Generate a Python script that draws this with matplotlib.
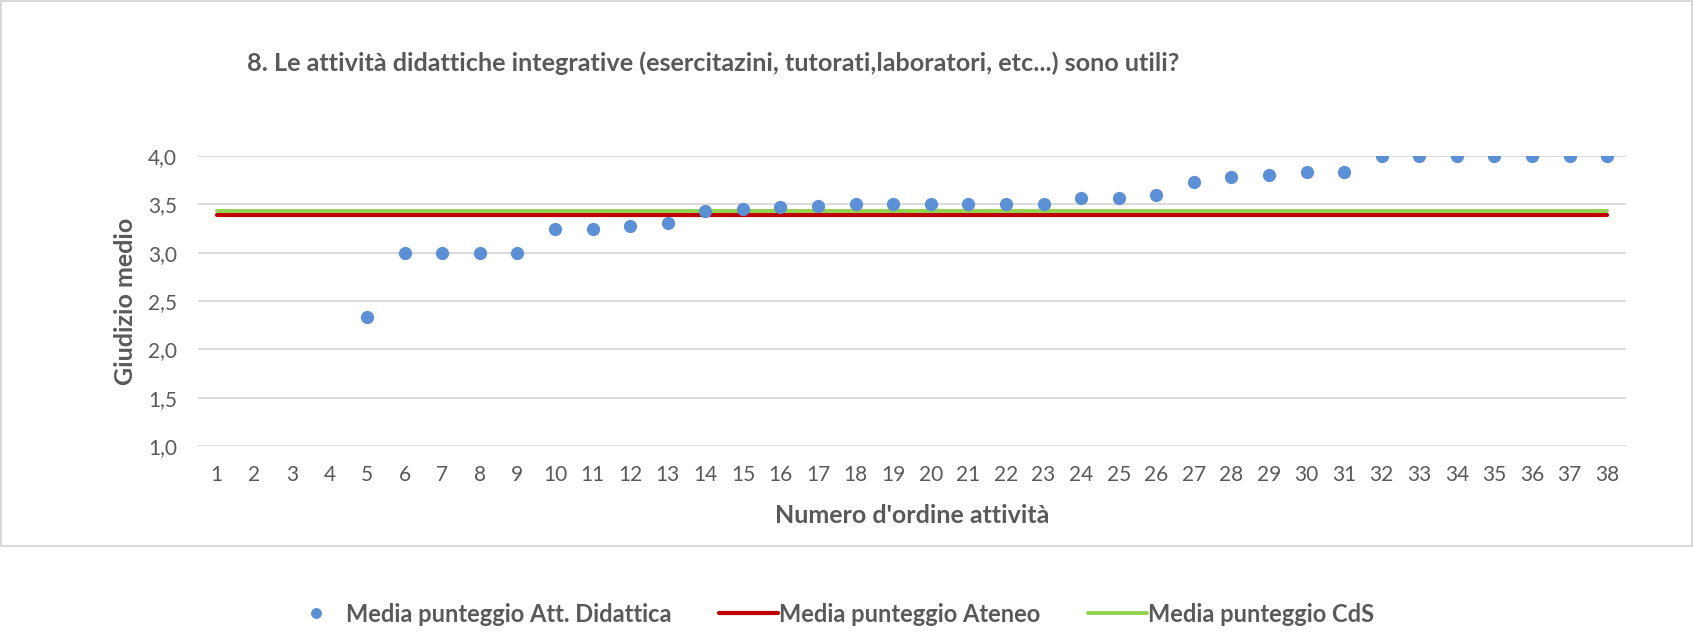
import matplotlib
matplotlib.use("Agg")
import matplotlib.pyplot as plt
from matplotlib.patches import Rectangle
import numpy as np

# ---- data ----
categories = list(range(1, 39))
media_att = [np.nan, np.nan, np.nan, np.nan, 2.33, 3.00, 3.00, 3.00, 3.00, 3.25,
             3.25, 3.28, 3.31, 3.43, 3.45, 3.47, 3.48, 3.50, 3.50, 3.50,
             3.50, 3.50, 3.50, 3.57, 3.57, 3.60, 3.73, 3.78, 3.80, 3.83,
             3.83, 4.00, 4.00, 4.00, 4.00, 4.00, 4.00, 4.00]
media_ateneo = 3.39
media_cds = 3.43
y_ticks = [1.0, 1.5, 2.0, 2.5, 3.0, 3.5, 4.0]
y_ticklabels = ["1,0", "1,5", "2,0", "2,5", "3,0", "3,5", "4,0"]

title = "8. Le attività didattiche integrative (esercitazini, tutorati,laboratori, etc...) sono utili?"
xlabel = "Numero d'ordine attività"
ylabel = "Giudizio medio"
legend_labels = ["Media punteggio Att. Didattica", "Media punteggio Ateneo", "Media punteggio CdS"]

# ---- style ----
plt.rcParams['font.family'] = ['Lato', 'DejaVu Sans']
TXT = "#595959"
W, H = 1693, 633
fig = plt.figure(figsize=(W / 100, H / 100), dpi=100)

# outer chart border
fig.patches.append(Rectangle((1 / W, 1 - 546 / H), (W - 2) / W, (545) / H,
                             transform=fig.transFigure, fill=False,
                             edgecolor="#D9D9D9", linewidth=1.5))

ax = fig.add_axes([198 / W, 1 - 446 / H, (1626 - 198) / W, (446 - 156) / H])
ax.set_xlim(0.5, 38.5)
ax.set_ylim(1.0, 4.0)
for s in ax.spines.values():
    s.set_visible(False)
ax.set_yticks(y_ticks)
ax.set_yticklabels(y_ticklabels)
ax.set_xticks(categories)
ax.set_xticklabels([str(c) for c in categories])
ax.tick_params(axis="both", length=0, labelsize=15, colors=TXT)
ax.tick_params(axis="x", pad=14)
ax.tick_params(axis="y", pad=15)
ax.grid(axis="y", color="#D9D9D9", linewidth=1.3)
ax.set_axisbelow(True)

ax.plot([categories[0], categories[-1]], [media_ateneo, media_ateneo], color="#C00000",
        linewidth=3.0, solid_capstyle="round", zorder=2, label=legend_labels[1])
ax.plot([categories[0], categories[-1]], [media_cds, media_cds], color="#92D050",
        linewidth=2.8, solid_capstyle="round", zorder=2, label=legend_labels[2])
ax.plot(categories, media_att, linestyle="none", marker="o", markersize=8.5,
        color="#5B8FD6", zorder=3, label=legend_labels[0])

ax.set_xlabel(xlabel, fontsize=18, fontweight="bold", color=TXT)
ax.set_ylabel(ylabel, fontsize=18, fontweight="bold", color=TXT)
ax.xaxis.set_label_coords(0.5, -(504 - 446) / 290)
ax.yaxis.set_label_coords((137 - 198) / 1428, 0.5)

fig.text(247 / W, 1 - 63 / H, title, fontsize=18.2, fontweight="bold", color=TXT,
         ha="left", va="center")

h, l = ax.get_legend_handles_labels()
order = [2, 0, 1]
fig.legend([h[i] for i in order], [l[i] for i in order], loc="center",
           bbox_to_anchor=(830 / W, 1 - 614 / H), ncol=3, frameon=False,
           prop={"size": 17, "weight": "bold"}, labelcolor=TXT,
           handlelength=2.5, handletextpad=0.05, columnspacing=2.0, markerscale=0.8)

fig.savefig("out.png", dpi=100)
